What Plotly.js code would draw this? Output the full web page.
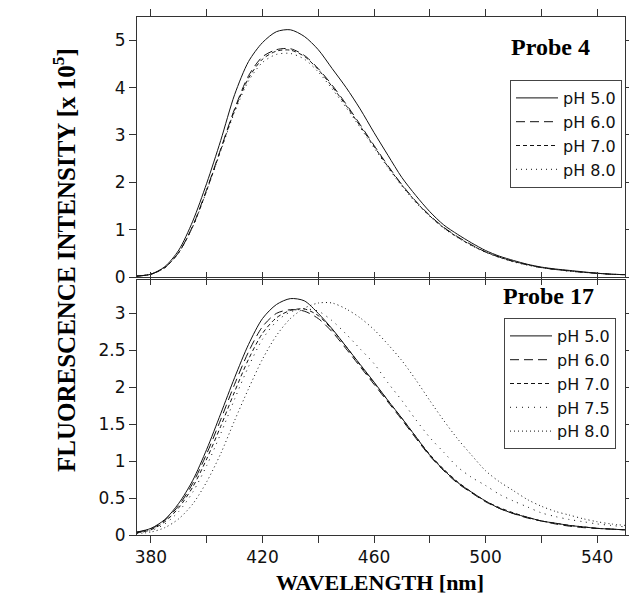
<!DOCTYPE html>
<html>
<head>
<meta charset="utf-8">
<script src="https://cdn.plot.ly/plotly-3.0.1.min.js"></script>
<style>
html,body{margin:0;padding:0;background:#fff;}
#chart{width:629px;height:596px;}
</style>
</head>
<body>
<div id="chart"></div>
<script>
// Wavelength grid (nm)
const wavelength = [375,380,385,390,395,400,405,410,415,420,425,430,435,440,445,450,455,460,465,470,475,480,485,490,495,500,505,510,515,520,525,530,535,540,545,550];

// Probe 4 (x 10^5)
const p4_pH50 = [0.02,0.06,0.22,0.57,1.18,1.98,2.88,3.85,4.55,4.95,5.18,5.22,5.08,4.80,4.40,4.00,3.55,3.05,2.57,2.10,1.72,1.38,1.10,0.90,0.72,0.56,0.44,0.35,0.27,0.21,0.17,0.14,0.11,0.08,0.06,0.05];
const p4_pH60 = [0.02,0.06,0.20,0.52,1.08,1.85,2.70,3.55,4.25,4.65,4.80,4.82,4.68,4.40,4.05,3.65,3.22,2.78,2.35,1.95,1.60,1.30,1.05,0.85,0.68,0.53,0.42,0.33,0.26,0.20,0.16,0.13,0.10,0.08,0.06,0.05];
const p4_pH70 = [0.02,0.06,0.20,0.52,1.07,1.83,2.68,3.52,4.20,4.60,4.77,4.79,4.66,4.38,4.02,3.62,3.19,2.76,2.33,1.94,1.59,1.29,1.04,0.84,0.67,0.53,0.42,0.33,0.26,0.20,0.16,0.13,0.10,0.08,0.06,0.05];
const p4_pH80 = [0.02,0.06,0.20,0.52,1.06,1.82,2.66,3.48,4.14,4.53,4.70,4.72,4.60,4.33,3.97,3.58,3.16,2.73,2.31,1.92,1.57,1.28,1.03,0.83,0.66,0.52,0.41,0.32,0.25,0.20,0.16,0.12,0.10,0.08,0.06,0.05];

// Probe 17 (x 10^5)
const p17_pH50 = [0.04,0.09,0.21,0.43,0.74,1.16,1.64,2.13,2.58,2.93,3.12,3.20,3.17,3.00,2.79,2.55,2.31,2.07,1.82,1.58,1.33,1.08,0.88,0.71,0.58,0.46,0.36,0.29,0.24,0.19,0.16,0.13,0.11,0.09,0.08,0.07];
const p17_pH60 = [0.04,0.08,0.20,0.40,0.70,1.10,1.56,2.04,2.48,2.82,3.00,3.05,3.03,2.93,2.75,2.52,2.28,2.04,1.80,1.56,1.31,1.07,0.87,0.70,0.57,0.45,0.36,0.29,0.23,0.19,0.15,0.12,0.10,0.09,0.08,0.07];
const p17_pH70 = [0.03,0.07,0.18,0.37,0.65,1.03,1.47,1.94,2.38,2.73,2.94,3.04,3.06,2.97,2.78,2.55,2.30,2.06,1.82,1.58,1.33,1.09,0.89,0.72,0.58,0.46,0.37,0.30,0.24,0.19,0.16,0.13,0.11,0.09,0.08,0.07];
const p17_pH75 = [0.03,0.06,0.15,0.32,0.58,0.94,1.37,1.84,2.28,2.65,2.89,3.02,3.06,3.03,2.90,2.72,2.52,2.32,2.06,1.82,1.56,1.32,1.12,0.92,0.78,0.67,0.55,0.46,0.38,0.30,0.25,0.21,0.18,0.15,0.13,0.11];
const p17_pH80 = [0.02,0.04,0.10,0.22,0.42,0.72,1.10,1.55,1.98,2.38,2.70,2.93,3.07,3.14,3.14,3.06,2.94,2.78,2.58,2.36,2.10,1.82,1.55,1.30,1.08,0.87,0.72,0.60,0.48,0.39,0.32,0.27,0.22,0.18,0.15,0.13];

// Labels
const probe4Names = ['pH 5.0','pH 6.0','pH 7.0','pH 8.0'];
const probe17Names = ['pH 5.0','pH 6.0','pH 7.0','pH 7.5','pH 8.0'];
const xTickVals = [380,420,460,500,540];
const xTickText = ['380','420','460','500','540'];
const y1TickVals = [0,1,2,3,4,5];
const y1TickText = ['0','1','2','3','4','5'];
const y2TickVals = [0,0.5,1,1.5,2,2.5,3];
const y2TickText = ['0','0.5','1','1.5','2','2.5','3'];

const dashes4 = ['solid','9px,5px','4px,3px','1px,4px'];
const dashes17 = ['solid','9px,5px','4px,3px','1px,5px','1px,3px'];
const p4 = [p4_pH50,p4_pH60,p4_pH70,p4_pH80];
const p17 = [p17_pH50,p17_pH60,p17_pH70,p17_pH75,p17_pH80];

const traces = [];
p4.forEach((ys,i)=>{
  traces.push({x:wavelength,y:ys,type:'scatter',mode:'lines',name:probe4Names[i],
    xaxis:'x',yaxis:'y',legend:'legend',
    line:{color:'#111',width:1,dash:dashes4[i],shape:'spline',smoothing:0.8}});
});
p17.forEach((ys,i)=>{
  traces.push({x:wavelength,y:ys,type:'scatter',mode:'lines',name:probe17Names[i],
    xaxis:'x2',yaxis:'y2',legend:'legend2',
    line:{color:'#111',width:1,dash:dashes17[i],shape:'spline',smoothing:0.8}});
});

const sans = '"DejaVu Sans", Arial, sans-serif';
const tickFont = {family:sans,size:17,color:'#111'};
const serif = '"Times New Roman", "Liberation Serif", serif';
const axBase = {showline:true,linecolor:'#333',linewidth:1,mirror:'ticks',ticks:'outside',
  ticklen:7,tickcolor:'#333',tickwidth:1,showgrid:false,zeroline:false,tickfont:tickFont};
const xMinor = {tickmode:'linear',tick0:380,dtick:20,ticks:'outside',ticklen:7,tickcolor:'#333',tickwidth:1,showgrid:false};
const legFont = {family:sans,size:16,color:'#111'};

const layout = {
  width:629,height:596,
  margin:{l:137,r:4,t:17,b:61},
  paper_bgcolor:'#fff',plot_bgcolor:'#fff',
  showlegend:true,
  xaxis:Object.assign({},axBase,{domain:[0,1],range:[375,550],anchor:'y',
    tickmode:'array',tickvals:xTickVals,ticktext:xTickText,showticklabels:false,minor:xMinor}),
  yaxis:Object.assign({},axBase,{domain:[0.498,1],range:[0,5.49],anchor:'x',
    tickmode:'array',tickvals:y1TickVals,ticktext:y1TickText}),
  xaxis2:Object.assign({},axBase,{domain:[0,1],range:[375,550],anchor:'y2',
    tickmode:'array',tickvals:xTickVals,ticktext:xTickText,ticklabelstandoff:0,minor:xMinor}),
  yaxis2:Object.assign({},axBase,{domain:[0,0.492],range:[0,3.45],anchor:'x2',
    tickmode:'array',tickvals:y2TickVals,ticktext:y2TickText}),
  legend:{x:(622-137)/488,y:(535-80)/518,xanchor:'right',yanchor:'top',bgcolor:'#fff',bordercolor:'#444',borderwidth:1,
    font:legFont,tracegroupgap:0,itemwidth:42},
  legend2:{x:(616-137)/488,y:(535-318)/518,xanchor:'right',yanchor:'top',bgcolor:'#fff',bordercolor:'#444',borderwidth:1,
    font:legFont,tracegroupgap:0,itemwidth:42},
  annotations:[
    {text:'<b>Probe 4</b>',xref:'paper',yref:'paper',x:(550-137)/488,y:(535-47)/518,xanchor:'center',yanchor:'middle',
     showarrow:false,font:{family:serif,size:24,color:'#000'}},
    {text:'<b>Probe 17</b>',xref:'paper',yref:'paper',x:(548-137)/488,y:(535-296)/518,xanchor:'center',yanchor:'middle',
     showarrow:false,font:{family:serif,size:24,color:'#000'}},
    {text:'<b>FLUORESCENCE INTENSITY [x 10<sup>5</sup>]</b>',xref:'paper',yref:'paper',x:(64-137)/488,y:(535-260)/518,
     xanchor:'center',yanchor:'middle',textangle:-90,showarrow:false,font:{family:serif,size:25,color:'#000'}},
    {text:'<b>WAVELENGTH [nm]</b>',xref:'paper',yref:'paper',x:(380-137)/488,y:(535-582)/518,
     xanchor:'center',yanchor:'middle',showarrow:false,font:{family:serif,size:22,color:'#000'}}
  ]
};

Plotly.newPlot('chart',traces,layout,{displayModeBar:false,staticPlot:true});
</script>
</body>
</html>
